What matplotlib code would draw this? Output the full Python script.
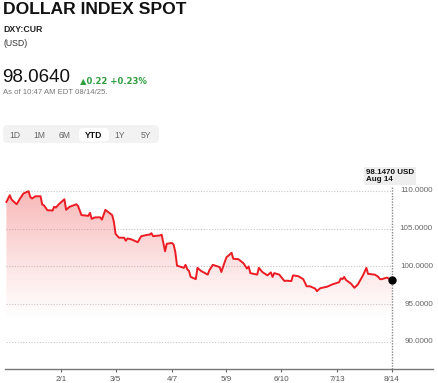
#!/usr/bin/env python3
"""Dollar index spot, YTD price card."""
import matplotlib
matplotlib.use("Agg")
import matplotlib.pyplot as plt
import matplotlib.dates as mdates
import numpy as np
from datetime import datetime
from matplotlib.patches import FancyBboxPatch

# data
DATES = [
    "2024-12-31", "2025-01-02", "2025-01-03", "2025-01-06", "2025-01-08", "2025-01-10",
    "2025-01-13", "2025-01-14", "2025-01-15", "2025-01-17", "2025-01-20", "2025-01-21",
    "2025-01-22", "2025-01-24", "2025-01-27", "2025-01-28", "2025-01-29", "2025-01-31",
    "2025-02-03", "2025-02-04", "2025-02-06", "2025-02-10", "2025-02-11", "2025-02-13",
    "2025-02-17", "2025-02-18", "2025-02-19", "2025-02-21", "2025-02-24", "2025-02-25",
    "2025-02-27", "2025-03-03", "2025-03-04", "2025-03-05", "2025-03-07", "2025-03-10",
    "2025-03-11", "2025-03-12", "2025-03-14", "2025-03-18", "2025-03-20", "2025-03-24",
    "2025-03-25", "2025-03-26", "2025-03-27", "2025-03-31", "2025-04-01", "2025-04-03",
    "2025-04-04", "2025-04-07", "2025-04-08", "2025-04-09", "2025-04-10", "2025-04-14",
    "2025-04-15", "2025-04-16", "2025-04-17", "2025-04-18", "2025-04-21", "2025-04-22",
    "2025-04-24", "2025-04-28", "2025-04-29", "2025-05-01", "2025-05-05", "2025-05-06",
    "2025-05-08", "2025-05-09", "2025-05-12", "2025-05-13", "2025-05-16", "2025-05-19",
    "2025-05-21", "2025-05-22", "2025-05-23", "2025-05-27", "2025-05-28", "2025-05-30",
    "2025-06-02", "2025-06-04", "2025-06-05", "2025-06-06", "2025-06-09", "2025-06-10",
    "2025-06-12", "2025-06-13", "2025-06-16", "2025-06-17", "2025-06-20", "2025-06-23",
    "2025-06-25", "2025-06-27", "2025-06-30", "2025-07-01", "2025-07-03", "2025-07-07",
    "2025-07-10", "2025-07-14", "2025-07-15", "2025-07-16", "2025-07-17", "2025-07-18",
    "2025-07-21", "2025-07-23", "2025-07-25", "2025-07-28", "2025-07-30", "2025-07-31",
    "2025-08-04", "2025-08-06", "2025-08-07", "2025-08-08", "2025-08-11", "2025-08-13",
    "2025-08-14",
]
VALUES = [
    108.55, 109.44, 108.87, 108.24, 109.00, 109.67,
    109.97, 109.20, 109.00, 109.30, 109.30, 108.20,
    108.10, 107.45, 107.40, 107.90, 107.80, 108.30,
    108.90, 107.50, 107.90, 108.24, 108.00, 106.80,
    106.70, 107.10, 106.30, 106.50, 106.50, 106.20,
    107.50, 106.80, 105.90, 104.30, 103.80, 103.80,
    103.40, 103.70, 103.60, 103.20, 104.00, 104.20,
    104.20, 104.40, 104.00, 104.10, 104.20, 102.00,
    103.00, 103.10, 102.90, 101.90, 100.10, 99.80,
    100.20, 99.60, 99.40, 98.60, 98.30, 99.80,
    99.40, 98.90, 99.50, 100.20, 99.90, 99.25,
    100.60, 101.20, 101.80, 101.00, 100.95, 100.40,
    99.70, 99.98, 99.10, 98.90, 99.80, 99.25,
    98.80, 99.20, 98.60, 99.10, 98.90, 98.60,
    98.05, 98.10, 98.05, 98.80, 98.70, 98.30,
    97.35, 97.35, 97.05, 96.70, 97.10, 97.30,
    97.60, 97.90, 98.40, 98.30, 98.60, 98.20,
    97.70, 97.15, 97.60, 98.80, 99.80, 99.00,
    98.90, 98.60, 98.30, 98.30, 98.50, 98.30,
    98.147,
]
TICK_DATES = ["2025-02-01", "2025-03-05", "2025-04-07", "2025-05-09",
              "2025-06-10", "2025-07-13", "2025-08-14"]
TICK_LABELS = ["2/1", "3/5", "4/7", "5/9", "6/10", "7/13", "8/14"]
Y_TICKS = [90, 95, 100, 105, 110]
RANGES = ["1D", "1M", "6M", "YTD", "1Y", "5Y"]

plt.rcParams["font.family"] = ["Liberation Sans", "DejaVu Sans"]

W, H = 438, 383
fig = plt.figure(figsize=(W / 100, H / 100), dpi=100)
fig.patch.set_facecolor("white")


def fx(x):
    return x / W


def fy(y):
    return 1 - y / H


# header
fig.text(fx(3), fy(9.5), "DOLLAR INDEX SPOT", fontsize=12.6, fontweight="bold",
         color="#111111", va="center")
fig.text(fx(3), fy(30), "DXY:CUR", fontsize=6.3, fontweight="bold",
         color="#222222", va="center")
fig.text(fx(3), fy(43.5), "(USD)", fontsize=6.3, color="#333333", va="center")
fig.text(fx(2.5), fy(77.5), "98.0640", fontsize=13.5, color="#111111", va="center")
fig.text(fx(80), fy(81), "\u25b20.22 +0.23%", fontsize=6.1, color="#2e9e3e",
         fontweight="bold", va="center", family=["DejaVu Sans"])
fig.text(fx(3), fy(92.5), "As of 10:47 AM EDT 08/14/25.", fontsize=5.6,
         color="#777777", va="center")

# range buttons
bar = FancyBboxPatch((fx(3), fy(143)), fx(156), (143 - 125) / H,
                     boxstyle="round,pad=0,rounding_size=0.012",
                     transform=fig.transFigure, fc="#f2f2f2", ec="none")
fig.patches.append(bar)
sel = FancyBboxPatch((fx(79), fy(141.5)), fx(30), (141.5 - 128) / H,
                     boxstyle="round,pad=0,rounding_size=0.01",
                     transform=fig.transFigure, fc="white", ec="none")
fig.patches.append(sel)
for lbl, xc in zip(RANGES, [15, 39.5, 65, 94, 120, 145.5]):
    fig.text(fx(xc), fy(135), lbl, fontsize=6.2, ha="center", va="center",
             color="#111111" if lbl == "YTD" else "#666666",
             fontweight="bold" if lbl == "YTD" else "normal")

# chart
ax = fig.add_axes([fx(5), fy(369.3), fx(428), (369.3 - 160) / H])
ax.set_facecolor("none")

dates = mdates.date2num([datetime.strptime(d, "%Y-%m-%d") for d in DATES])
vals = np.array(VALUES)
feb1 = mdates.date2num(datetime(2025, 2, 1))
px_day = 1.706
ax.set_xlim(feb1 - 56 / px_day, feb1 + 372 / px_day)
ax.set_ylim(86.34, 114.11)

# gridlines stop at the last point
for v in Y_TICKS:
    ax.hlines(v, dates[0], dates[-1], colors="#c8c8c8", linestyles=(0, (1, 1.5)),
              linewidth=0.8, zorder=1)
    ax.text(1.0, v, f"{v:.4f}", transform=ax.get_yaxis_transform(),
            ha="right", va="center", fontsize=5.8, color="#666666")

# gradient fill under the line
poly = ax.fill_between(dates, vals, 86.34, color="none", lw=0)
grad = np.linspace(0, 1, 256).reshape(-1, 1)
cmap = matplotlib.colors.LinearSegmentedColormap.from_list(
    "fade", [(0, (1, 1, 1, 0)), (0.27, (0.96, 0.5, 0.5, 0.0)),
             (1, (0.94, 0.4, 0.4, 0.5))])
img = ax.imshow(grad, aspect="auto", cmap=cmap, origin="lower",
                extent=[dates[0], dates[-1], 86.34, 111], zorder=1.5)
img.set_clip_path(poly.get_paths()[0], transform=ax.transData)

ax.plot(dates, vals, color="#ec1c24", lw=1.4, zorder=3, solid_joinstyle="round")
ax.plot(dates[-1], vals[-1], "o", color="black", markersize=5, zorder=4)

# crosshair and hover label
ax.vlines(dates[-1], 86.34, 110.6, colors="#888888", linestyles=(0, (1, 1)),
          linewidth=1.0, zorder=2)
ax.text(dates[-1] - 26 / px_day, 112.0, f"{vals[-1]:.4f} USD\nAug 14",
        fontsize=5.8, fontweight="bold", color="#111111", va="center", ha="left",
        linespacing=1.05,
        bbox=dict(boxstyle="square,pad=0.25", fc="#eeeeee", ec="none"))

# x axis
tick_pos = mdates.date2num([datetime.strptime(d, "%Y-%m-%d") for d in TICK_DATES])
ax.set_xticks(tick_pos)
ax.set_xticklabels(TICK_LABELS)
ax.tick_params(axis="x", length=2.5, width=0.8, color="#666666", labelsize=5.8,
               labelcolor="#555555", pad=2)
ax.set_yticks([])
for s in ("top", "left", "right"):
    ax.spines[s].set_visible(False)
ax.spines["bottom"].set_color("#777777")
ax.spines["bottom"].set_linewidth(1.0)

fig.savefig("out.png", dpi=100, facecolor="white")
